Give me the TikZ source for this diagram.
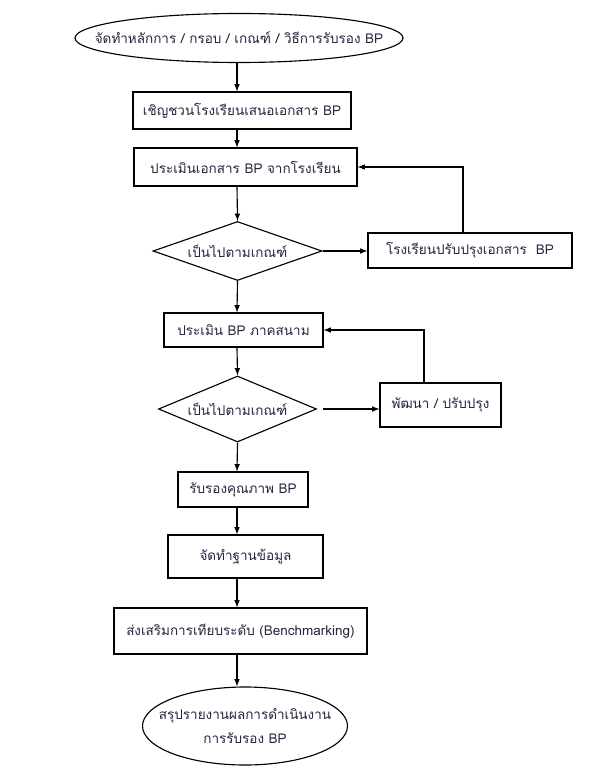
\documentclass[tikz,border=0pt]{standalone}
\usepackage{fontspec}
\newfontfamily\thaifont[Script=Thai]{Loma}
\usetikzlibrary{shapes.geometric}
\definecolor{txtnavy}{RGB}{32,38,62}

\begin{document}
\begin{tikzpicture}[x=0.025cm,y=-0.025cm,thick,
    font=\thaifont\fontsize{9.6}{17}\selectfont,
    every node/.style={text=txtnavy},
    box/.style={draw,inner sep=0pt},
    decision/.style={draw,diamond,shape aspect=2.8,inner sep=0pt},
    terminal/.style={draw,ellipse,inner sep=-0.8cm,align=center}]
    \useasboundingbox (0,0) rectangle (605,768);
    % \draw[thin,gray!40] (0,0) grid[step=50] (605,768);
    \coordinate (spine) at (237,0);
    \node[terminal,minimum width=328*0.025cm,minimum height=49*0.025cm] (start) at (239,38) {จัดทำหลักการ / กรอบ / เกณฑ์ / วิธีการรับรอง BP};
    \node[box,minimum width=218*0.025cm,minimum height=37*0.025cm] (invite) at (242,110.5) {เชิญชวนโรงเรียนเสนอเอกสาร BP};
    \node[box,minimum width=223*0.025cm,minimum height=38*0.025cm] (evaldoc) at (245.5,167) {ประเมินเอกสาร BP จากโรงเรียน};
    \node[decision,minimum width=169*0.025cm,minimum height=59*0.025cm] (check1) at (237.5,251) {เป็นไปตามเกณฑ์};
    \node[box,minimum width=204*0.025cm,minimum height=35*0.025cm] (fixdoc) at (470,250.5) {โรงเรียนปรับปรุงเอกสาร~~BP};
    \node[box,minimum width=159*0.025cm,minimum height=34*0.025cm] (evalfield) at (243.5,330) {ประเมิน BP ภาคสนาม};
    \node[decision,minimum width=158*0.025cm,minimum height=66*0.025cm] (check2) at (237.5,409) {เป็นไปตามเกณฑ์};
    \node[box,minimum width=121*0.025cm,minimum height=44*0.025cm] (develop) at (440.5,405) {พัฒนา / ปรับปรุง};
    \node[box,minimum width=130*0.025cm,minimum height=35*0.025cm] (certify) at (243,489.5) {รับรองคุณภาพ BP};
    \node[box,minimum width=155*0.025cm,minimum height=43*0.025cm] (database) at (245.5,556.5) {จัดทำฐานข้อมูล};
    \node[box,minimum width=253*0.025cm,minimum height=46*0.025cm] (bench) at (240.5,631) {ส่งเสริมการเทียบระดับ (Benchmarking)};
    \node[terminal,minimum width=205*0.025cm,minimum height=78*0.025cm] (report) at (245,726) {สรุปรายงานผลการดำเนินงาน\\การรับรอง BP};
    % main flow
    \draw[-latex] (start.south -| spine) -- (invite.north -| spine);
    \draw[-latex] (invite.south -| spine) -- (evaldoc.north -| spine);
    \draw[-latex] (evaldoc.south -| spine) -- (check1.north);
    \draw[-latex] (check1.south) -- (evalfield.north -| spine);
    \draw[-latex] (evalfield.south -| spine) -- (check2.north);
    \draw[-latex] (check2.south) -- (certify.north -| spine);
    \draw[-latex] (certify.south -| spine) -- (database.north -| spine);
    \draw[-latex] (database.south -| spine) -- (bench.north -| spine);
    \draw[-latex] (bench.south -| spine) -- (report.north -| spine);
    % loops back
    \draw[-latex] (check1.east) -- (fixdoc.west |- check1.east);
    \draw[-latex] (fixdoc.north -| 463,0) |- (evaldoc.east);
    \draw[-latex,shorten <=6*0.025cm] (check2.east) -- (develop.west |- check2.east);
    \draw[-latex] (develop.north -| 424,0) |- (evalfield.east);
\end{tikzpicture}
\end{document}
